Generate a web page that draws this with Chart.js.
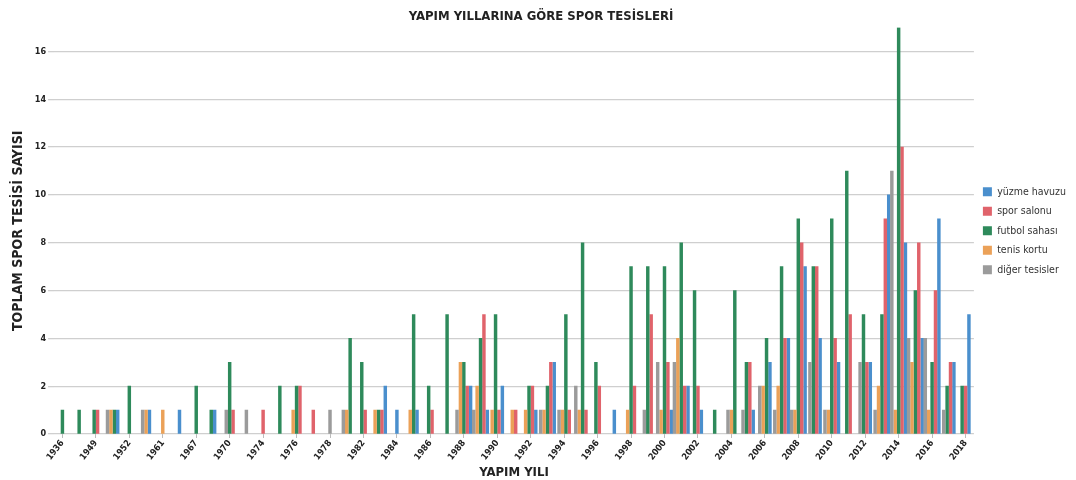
<!DOCTYPE html>
<html>
<head>
<meta charset="utf-8">
<script src="https://cdn.jsdelivr.net/npm/chart.js@4/dist/chart.umd.min.js"></script>
<style>
  html, body { margin: 0; background: #fff; }
</style>
</head>
<body>
<canvas id="tesisChart" width="1076" height="480"></canvas>
<script>
// yapım yılları (tek indeksliler eksende gizli)
var years = ['1936','1938','1949','1950','1952','1958','1961','1965','1967','1969',
             '1970','1972','1974','1975','1976','1977','1978','1980','1982','1983',
             '1984','1985','1986','1987','1988','1989','1990','1991','1992','1993',
             '1994','1995','1996','1997','1998','1999','2000','2001','2002','2003',
             '2004','2005','2006','2007','2008','2009','2010','2011','2012','2013',
             '2014','2015','2016','2017','2018'];

var digerTesisler = [0,0,0,1,0,1,0,0,0,0, 1,1,0,0,0,0,1,1,0,0, 0,0,0,0,1,1,0,0,0,1,
                     1,2,0,0,0,1,3,3,0,0, 1,1,2,1,1,3,1,0,3,1, 11,4,4,1,0];
var tenisKortu    = [0,0,0,1,0,1,1,0,0,0, 0,0,0,0,1,0,0,1,0,1, 0,1,0,0,3,2,1,1,1,1,
                     1,1,0,0,1,0,1,4,0,0, 1,0,2,2,1,0,1,0,0,2, 1,3,1,0,0];
var futbolSahasi  = [1,1,1,1,2,0,0,0,2,1, 3,0,0,2,2,0,0,4,3,1, 0,5,2,5,3,4,5,0,2,2,
                     5,8,3,0,7,7,7,8,6,1, 6,3,4,7,9,7,9,11,5,5, 17,6,3,2,2];
var sporSalonu    = [0,0,1,0,0,0,0,0,0,0, 1,0,1,0,2,1,0,0,1,1, 0,0,1,0,2,5,1,1,2,3,
                     1,1,2,0,2,5,3,2,2,0, 0,3,0,4,8,7,4,5,3,9, 12,8,6,3,2];
var yuzmeHavuzu   = [0,0,0,1,0,1,0,1,0,1, 0,0,0,0,0,0,0,0,0,2, 1,1,0,0,2,1,2,0,1,3,
                     0,0,0,1,0,0,1,2,1,0, 0,1,3,4,7,4,3,0,3,10, 8,4,9,3,5];

var yTicks = [0, 2, 4, 6, 8, 10, 12, 14, 16];

var FONT = '"Liberation Sans Narrow", "DejaVu Sans Condensed", "Roboto", sans-serif';
Chart.defaults.font.family = FONT;
Chart.defaults.color = '#333';

// sıfır değerli sütunlar çizilmiyor, kalanlar ortalanıyor
function noZero(arr) {
    return arr.map(function (v) { return v === 0 ? null : v; });
}

function ds(label, data, color) {
    return {
        label: label,
        data: noZero(data),
        backgroundColor: color,
        borderWidth: 0,
        skipNull: true,
        barThickness: 3.4,
        maxBarThickness: 2.8
    };
}

new Chart(document.getElementById('tesisChart').getContext('2d'), {
    type: 'bar',
    data: {
        labels: years,
        datasets: [
            ds('diğer tesisler', digerTesisler, '#9b9b9b'),
            ds('tenis kortu', tenisKortu, '#eba158'),
            ds('futbol sahası', futbolSahasi, '#2e8a5b'),
            ds('spor salonu', sporSalonu, '#e0636b'),
            ds('yüzme havuzu', yuzmeHavuzu, '#4a8fcd')
        ]
    },
    options: {
        responsive: false,
        animation: false,
        layout: { padding: { left: 6, right: 0, top: 0, bottom: 0 } },
        plugins: {
            title: {
                display: true,
                text: 'YAPIM YILLARINA GÖRE SPOR TESİSLERİ',
                font: { size: 13, weight: 'bold' },
                color: '#222',
                padding: { top: 9, bottom: 3 }
            },
            legend: {
                position: 'right',
                fullSize: false,
                reverse: true,
                labels: {
                    boxWidth: 9,
                    boxHeight: 9,
                    padding: 9,
                    font: { size: 10.5 },
                    color: '#333'
                }
            },
            tooltip: { enabled: false }
        },
        scales: {
            x: {
                offset: true,
                grid: {
                    offset: false,
                    drawOnChartArea: false,
                    tickLength: 4,
                    color: function (ctx) { return ctx.index % 2 === 0 ? '#bbb' : 'rgba(0,0,0,0)'; }
                },
                border: { display: false },
                ticks: {
                    autoSkip: false,
                    maxRotation: 52,
                    minRotation: 52,
                    padding: 0,
                    font: { size: 9, weight: 'bold' },
                    color: '#222',
                    callback: function (val, i) { return i % 2 === 0 ? years[i] : ''; }
                },
                title: {
                    display: true,
                    text: 'YAPIM YILI',
                    font: { size: 13, weight: 'bold' },
                    color: '#222',
                    padding: { top: 2, bottom: 0 }
                }
            },
            y: {
                min: 0,
                max: 17,
                afterBuildTicks: function (axis) {
                    axis.ticks = yTicks.map(function (v) { return { value: v }; });
                },
                grid: { color: '#cfcfcf', lineWidth: 1.3, tickLength: 6 },
                border: { display: false },
                ticks: {
                    padding: 2,
                    font: { size: 9, weight: 'bold' },
                    color: '#222'
                },
                title: {
                    display: true,
                    text: 'TOPLAM SPOR TESİSİ SAYISI',
                    font: { size: 14, weight: 'bold' },
                    color: '#222',
                    padding: { bottom: 6 }
                }
            }
        }
    }
});
</script>
</body>
</html>
